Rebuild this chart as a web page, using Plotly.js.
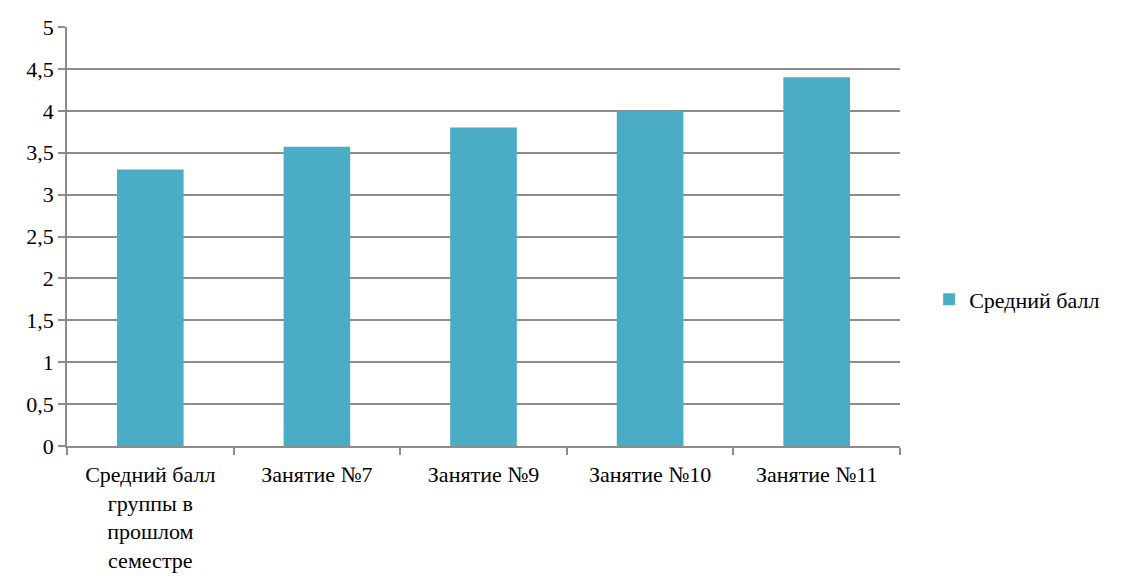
<!DOCTYPE html>
<html>
<head>
<meta charset="utf-8">
<script src="https://cdn.plot.ly/plotly-3.0.1.min.js"></script>
<style>
  html, body { margin: 0; padding: 0; background: #fff; }
  #chart { width: 1121px; height: 584px; }
</style>
</head>
<body>
<div id="chart"></div>
<script>
// Average score by lesson
const categories = [
  "Средний балл<br>группы в<br>прошлом<br>семестре",
  "Занятие №7",
  "Занятие №9",
  "Занятие №10",
  "Занятие №11"
];
const scores = [3.3, 3.57, 3.8, 4.0, 4.4];
const seriesName = "Средний балл";
const yTickVals = [0, 0.5, 1, 1.5, 2, 2.5, 3, 3.5, 4, 4.5, 5];
const yTickText = ["0", "0,5", "1", "1,5", "2", "2,5", "3", "3,5", "4", "4,5", "5"];

const gridColor = "#8c8c8c";
const fontFamily = "Liberation Serif, Times New Roman, serif";
const fontSize = 22;

const trace = {
  type: "bar",
  x: categories,
  y: scores,
  name: seriesName,
  marker: { color: "#4BACC6", line: { width: 0 } },
  showlegend: true,
  hoverinfo: "x+y"
};

const layout = {
  width: 1121,
  height: 584,
  margin: { l: 67, r: 221, t: 27, b: 138 },
  paper_bgcolor: "#fff",
  plot_bgcolor: "#fff",
  font: { family: fontFamily, size: fontSize, color: "#000" },
  bargap: 0.6,
  showlegend: true,
  legend: {
    x: 1.035, xanchor: "left",
    y: 0.35, yanchor: "middle",
    font: { family: fontFamily, size: fontSize, color: "#000" },
    itemwidth: 30
  },
  xaxis: {
    type: "category",
    showline: true,
    linecolor: gridColor,
    linewidth: 1.5,
    ticks: "outside",
    tickson: "boundaries",
    ticklen: 7,
    tickcolor: gridColor,
    tickwidth: 1.5,
    ticklabelstandoff: 8,
    showgrid: false,
    zeroline: false,
    tickfont: { family: fontFamily, size: fontSize, color: "#000" }
  },
  yaxis: {
    range: [0, 5],
    tickvals: yTickVals,
    ticktext: yTickText,
    showline: true,
    linecolor: gridColor,
    linewidth: 1.5,
    ticks: "outside",
    ticklen: 7,
    tickcolor: gridColor,
    tickwidth: 1.5,
    showgrid: true,
    gridcolor: gridColor,
    gridwidth: 1.5,
    zeroline: false,
    tickfont: { family: fontFamily, size: fontSize, color: "#000" }
  }
};

Plotly.newPlot("chart", [trace], layout, { displayModeBar: false, responsive: false });
</script>
</body>
</html>
